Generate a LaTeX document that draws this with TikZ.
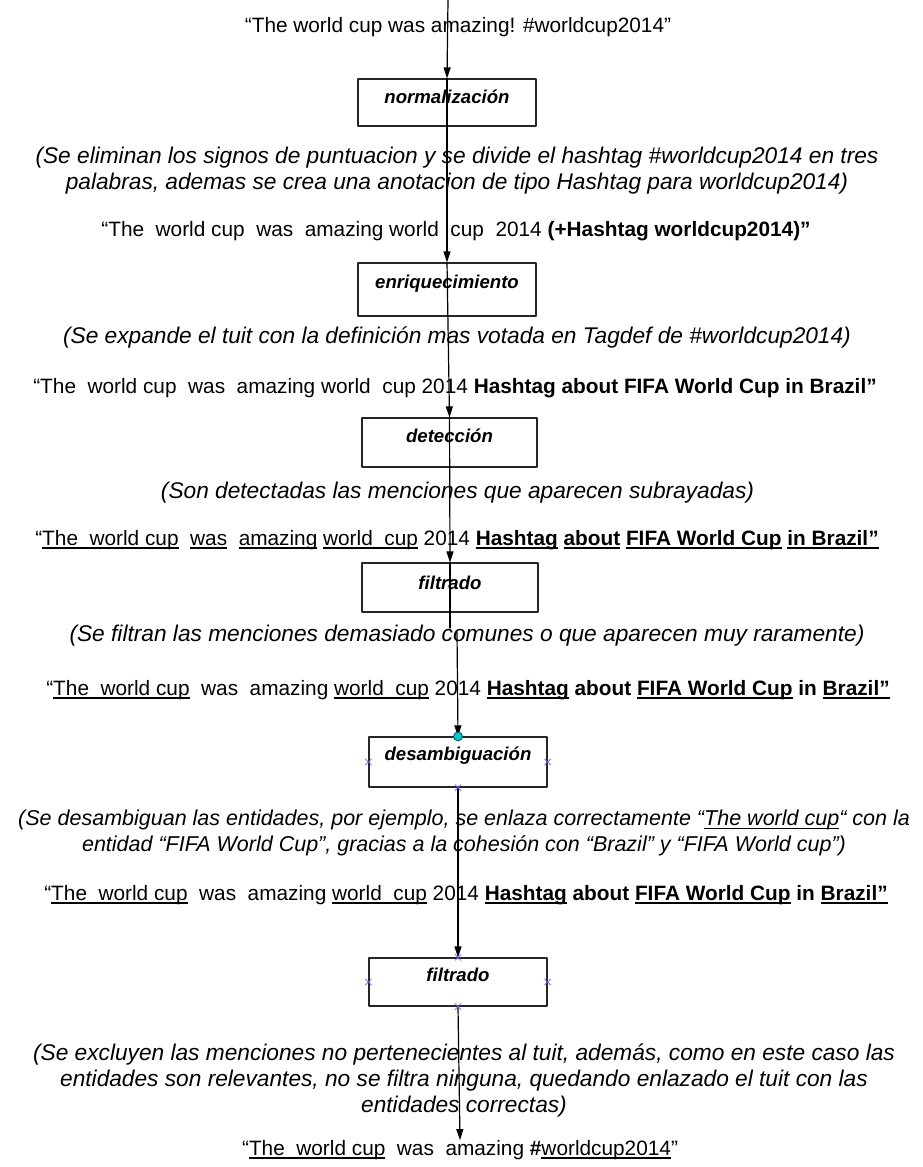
\documentclass[tikz,border=0pt]{standalone}
\usepackage{fontspec}
\setmainfont{Liberation Sans}
\usetikzlibrary{arrows.meta}
\definecolor{Hblue}{RGB}{100,100,255}
\definecolor{Hcyan}{RGB}{0,200,210}
\definecolor{Hteal}{RGB}{0,80,90}
\newsavebox{\mentionbox}
\newcommand{\mention}[1]{\sbox{\mentionbox}{#1}\rlap{\rule[-0.17em]{\wd\mentionbox}{0.07em}}\usebox{\mentionbox}}

\begin{document}
\begin{tikzpicture}[x=1pt,y=-1pt,line cap=round,line join=round,
  tweet/.style={font=\fontsize{20.8}{25}\selectfont,inner sep=0pt},
  note/.style={font=\itshape\fontsize{22.7}{26}\selectfont,align=center,inner sep=0pt},
  stagelbl/.style={font=\bfseries\itshape\fontsize{18.6}{22}\selectfont,inner sep=0pt,text height=0.75em,text depth=0.2em},
  stagebox/.style 2 args={draw=black!85,line width=1.2pt,minimum width=#1,minimum height=#2,inner sep=0pt},
  flow/.style={line width=1.2pt,-{Triangle[length=11pt,width=7pt]}},
  link/.style={line width=1.2pt},
  handle/.style={draw=Hblue,line width=0.8pt}]
\path[use as bounding box] (0,0) rectangle (922,1167);
\coordinate (top) at (448,0);
\coordinate (cut1) at (450,628);
\coordinate (cut2) at (457,632);
\node[tweet] (t0) at (458,27) {“The world cup was amazing! \#worldcup2014”};
\node[stagebox={178pt}{47pt}] (norm) at (447,102.5) {};
\node[stagelbl] (normlbl) at (447,101) {normalización};
\node[note] (n1) at (457,171) {(Se eliminan los signos de puntuacion y se divide el hashtag \#worldcup2014 en tres\\palabras, ademas se crea una anotacion de tipo Hashtag para worldcup2014)};
\node[tweet] (t1) at (456,231) {“The~ world cup~ was~ amazing world~ cup~ 2014 \textbf{(+Hashtag worldcup2014)”}};
\node[stagebox={178pt}{53pt}] (enr) at (447,289.5) {};
\node[stagelbl] (enrlbl) at (447,286) {enriquecimiento};
\node[note] (n2) at (457,337) {(Se expande el tuit con la definición mas votada en Tagdef de \#worldcup2014)};
\node[tweet] (t2) at (455,388) {“The~ world cup~ was~ amazing world~ cup 2014 \textbf{Hashtag about FIFA World Cup in Brazil”}};
\node[stagebox={175pt}{49pt}] (det) at (449.5,442.5) {};
\node[stagelbl] (detlbl) at (449.5,440) {detección};
\node[note] (n3) at (457.5,493) {(Son detectadas las menciones que aparecen subrayadas)};
\node[tweet] (t3) at (457,540) {“\mention{The~ world cup}~ \mention{was}~ \mention{amazing} \mention{world~ cup} 2014 \textbf{\mention{Hashtag} \mention{about} \mention{FIFA World Cup} \mention{in Brazil”}}};
\node[stagebox={176pt}{49pt}] (filt) at (450,587.5) {};
\node[stagelbl] (filtlbl) at (450,587) {filtrado};
\node[note] (n4) at (467,636) {(Se filtran las menciones demasiado comunes o que aparecen muy raramente)};
\node[tweet] (t4) at (468,690) {“\mention{The~ world cup}~ was~ amazing \mention{world~ cup} 2014 \textbf{\mention{Hashtag} about \mention{FIFA World Cup} in \mention{Brazil”}}};
\node[stagebox={178pt}{50pt}] (des) at (458,762) {};
\node[stagelbl] (deslbl) at (458,758) {desambiguación};
\node[note,font=\itshape\fontsize{21.5}{26}\selectfont] (n5) at (464,833) {(Se desambiguan las entidades, por ejemplo, se enlaza correctamente “\mention{The world cup}“ con la\\entidad “FIFA World Cup”, gracias a la cohesión con “Brazil” y “FIFA World cup”)};
\node[tweet] (t5) at (466,895) {“\mention{The~ world cup}~ was~ amazing \mention{world~ cup} 2014 \textbf{\mention{Hashtag} about \mention{FIFA World Cup} in \mention{Brazil”}}};
\node[stagebox={178pt}{48pt}] (filt2) at (458,982) {};
\node[stagelbl] (filt2lbl) at (458,979) {filtrado};
\node[note] (n6) at (464,1080) {(Se excluyen las menciones no pertenecientes al tuit, además, como en este caso las\\entidades son relevantes, no se filtra ninguna, quedando enlazado el tuit con las\\entidades correctas)};
\node[tweet] (t6) at (460,1150) {“\mention{The~ world cup}~ was~ amazing \textbf{\#}\mention{worldcup2014}”};
% flow through the stages
\draw[flow] (top) -- (norm.north);
\draw[flow] (norm.north) -- (enr.north);
\draw[flow] (enr.north) -- (det.north);
\draw[flow] (det.north) -- (filt.north);
\draw[link] (filt.north) -- (cut1);
\draw[flow] (cut2) -- (des.north);
\draw[flow] (des.south) -- (filt2.north);
\draw[flow] (filt2.south) -- (t6.north);
% selection handles
\foreach \a in {west,east,south}
  \draw[handle] (des.\a) +(-3,-3) -- +(3,3) +(-3,3) -- +(3,-3);
\foreach \a in {north,west,east,south}
  \draw[handle] (filt2.\a) +(-3,-3) -- +(3,3) +(-3,3) -- +(3,-3);
\draw[line width=0.8pt,draw=Hteal,fill=Hcyan] (des.north) circle[radius=4.5];
\end{tikzpicture}
\end{document}
